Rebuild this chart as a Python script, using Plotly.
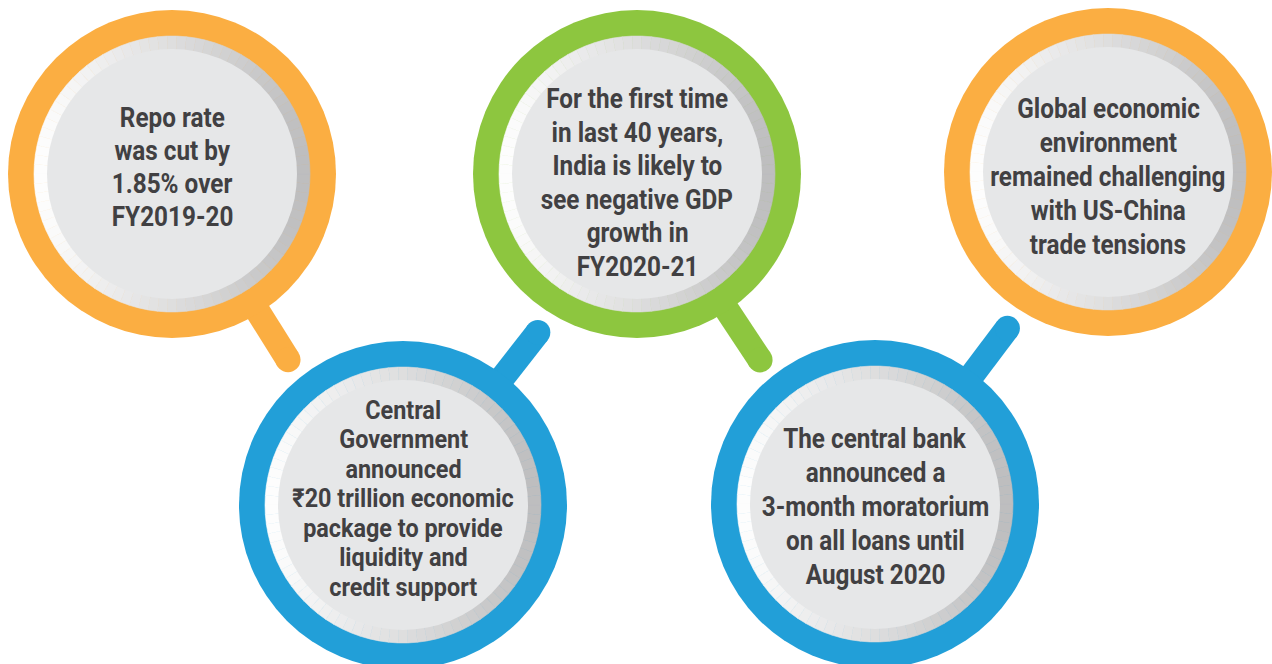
import numpy as np
import plotly.graph_objects as go

# ---- content ----
labels = [
    ["Repo rate", "was cut by", "1.85% over", "FY2019-20"],
    ["For the first time", "in last 40 years,", "India is likely to", "see negative GDP", "growth in", "FY2020-21"],
    ["Global economic", "environment", "remained challenging", "with US-China", "trade tensions"],
    ["Central", "Government", "announced", "₹20 trillion economic", "package to provide", "liquidity and", "credit support"],
    ["The central bank", "announced a", "3-month moratorium", "on all loans until", "August 2020"],
]
ring_colors = ["#FBAE42", "#8DC63F", "#FBAE42", "#229FD8", "#229FD8"]

# ---- layout geometry (pixels) ----
cx = [172, 637, 1108, 403, 875]
cy = [174, 174, 172, 505, 504]
handle_angle = [58, 56.5, None, -52, -53]
handle_len = [219, 223, None, 219, 220]
line_gap = [33, 33.5, 34, 29.5, 34]
text_shift = [-7, 9, 5, -7, 3]
font_size = [27, 27, 27, 26, 27]

R_OUT, R_GRAY, R_IN = 164, 138, 125
HANDLE_W = 25
W, H = 1272, 664
TEXT_COLOR = "#414042"
FONT = "Roboto, DejaVu Sans, sans-serif"

shapes = []
annotations = []


def circle(x, y, r, color):
    return dict(type="circle", xref="x", yref="y", x0=x - r, x1=x + r, y0=y - r, y1=y + r,
                fillcolor=color, line=dict(width=0), layer="above")


def mix(c1, c2, t):
    return "rgb({},{},{})".format(*[int(round(a + (b - a) * t)) for a, b in zip(c1, c2)])


# handles first (behind circles)
for i in range(len(cx)):
    if handle_angle[i] is None:
        continue
    a = np.radians(handle_angle[i])
    ex = cx[i] + handle_len[i] * np.cos(a)
    ey = cy[i] + handle_len[i] * np.sin(a)
    shapes.append(dict(type="line", xref="x", yref="y", x0=cx[i], y0=cy[i], x1=ex, y1=ey,
                       line=dict(color=ring_colors[i], width=HANDLE_W), layer="above"))
    shapes.append(circle(ex, ey, HANDLE_W / 2, ring_colors[i]))

left_c = (253, 253, 253)
right_c = (190, 190, 191)
nseg = 90
for i in range(len(cx)):
    shapes.append(circle(cx[i], cy[i], R_OUT, ring_colors[i]))
    # gradient ring
    for k in range(nseg):
        t0 = 2 * np.pi * k / nseg
        t1 = 2 * np.pi * (k + 1) / nseg
        tm = (t0 + t1) / 2
        col = mix(left_c, right_c, (np.cos(tm) + 1) / 2)
        pts = [(cx[i] + R_GRAY * np.cos(t0), cy[i] + R_GRAY * np.sin(t0)),
               (cx[i] + R_GRAY * np.cos(t1), cy[i] + R_GRAY * np.sin(t1)),
               (cx[i] + (R_IN - 2) * np.cos(t1), cy[i] + (R_IN - 2) * np.sin(t1)),
               (cx[i] + (R_IN - 2) * np.cos(t0), cy[i] + (R_IN - 2) * np.sin(t0))]
        path = "M " + " L ".join(f"{px:.2f},{py:.2f}" for px, py in pts) + " Z"
        shapes.append(dict(type="path", xref="x", yref="y", path=path, fillcolor=col,
                           line=dict(color=col, width=0.6), layer="above"))
    shapes.append(circle(cx[i], cy[i], R_IN, "#E6E7E8"))

    n = len(labels[i])
    for j, txt in enumerate(labels[i]):
        y = cy[i] + text_shift[i] + (j - (n - 1) / 2) * line_gap[i]
        annotations.append(dict(x=cx[i], y=y, xref="x", yref="y", text=txt, showarrow=False,
                                xanchor="center", yanchor="middle",
                                font=dict(family=FONT, size=font_size[i], color=TEXT_COLOR,
                                          weight="bold")))

fig = go.Figure()
fig.add_trace(go.Scatter(x=[0, W], y=[0, H], mode="markers", marker=dict(opacity=0),
                         hoverinfo="skip", showlegend=False))
fig.update_layout(
    width=W, height=H, margin=dict(l=0, r=0, t=0, b=0),
    paper_bgcolor="white", plot_bgcolor="white",
    xaxis=dict(range=[0, W], visible=False, fixedrange=True),
    yaxis=dict(range=[H, 0], visible=False, fixedrange=True),
    shapes=shapes, annotations=annotations, showlegend=False,
)

post = """
var st = document.createElement('style');
st.textContent = 'body{margin:0;} .annotation-text{transform-box:fill-box;transform-origin:center;transform:scaleX(0.9);}';
document.head.appendChild(st);
"""
fig.write_html("out.html", config={"displayModeBar": False}, post_script=post)
